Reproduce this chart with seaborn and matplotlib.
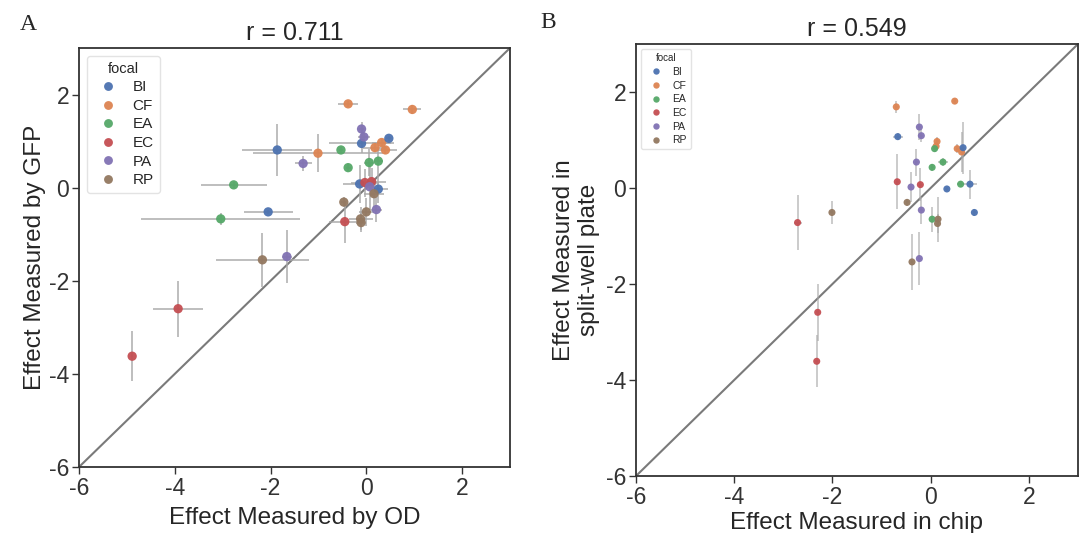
import numpy as np
import pandas as pd
import matplotlib
matplotlib.use("Agg")
import matplotlib.pyplot as plt
import seaborn as sns

# ---------------- Panel A data (OD vs GFP) ----------------
a_focal = ["CF"] * 6 + ["BI"] * 6 + ["EA"] * 6 + ["EC"] * 5 + ["PA"] * 6 + ["RP"] * 6
a_x = [-0.38, 0.96, -1.01, 0.18, 0.32, 0.40,
       -1.86, 0.47, -0.10, -0.14, 0.25, -2.05,
       -2.77, -3.04, -0.53, -0.38, 0.06, 0.25,
       -3.93, -4.89, -0.45, -0.03, 0.11,
       -1.32, -1.66, -0.10, -0.05, 0.07, 0.21,
       -2.17, -0.47, -0.12, -0.11, 0.00, 0.16]
a_y = [1.80, 1.68, 0.74, 0.86, 0.97, 0.81,
       0.81, 1.06, 0.95, 0.08, -0.03, -0.52,
       0.06, -0.67, 0.81, 0.43, 0.54, 0.57,
       -2.60, -3.62, -0.73, 0.11, 0.13,
       0.52, -1.48, 1.26, 1.09, 0.02, -0.47,
       -1.55, -0.31, -0.67, -0.75, -0.52, -0.13]
a_xerr = [0.21, 0.19, 1.35, 0.25, 0.20, 0.25,
          0.73, 0.05, 0.67, 0.35, 0.20, 0.51,
          0.69, 1.66, 0.05, 0.05, 0.10, 0.10,
          0.52, 0.02, 0.34, 0.30, 0.30,
          0.18, 0.10, 0.05, 0.12, 0.10, 0.12,
          0.97, 0.05, 0.25, 0.10, 0.15, 0.20]
a_yerr = [0.07, 0.10, 0.41, 0.10, 0.08, 0.08,
          0.55, 0.05, 0.20, 0.40, 0.30, 0.05,
          0.06, 0.13, 0.06, 0.08, 0.30, 0.30,
          0.60, 0.54, 0.45, 0.30, 0.30,
          0.17, 0.56, 0.14, 0.10, 0.50, 0.27,
          0.58, 0.10, 0.25, 0.20, 0.30, 0.30]

# ---------------- Panel B data (chip vs split-well plate) ----------------
b_focal = ["CF"] * 6 + ["BI"] * 5 + ["EA"] * 5 + ["EC"] * 5 + ["PA"] * 6 + ["RP"] * 5
b_x = [-0.70, 0.49, 0.13, 0.11, 0.54, 0.63,
       -0.67, 0.66, 0.80, 0.33, 0.89,
       0.08, 0.25, 0.03, 0.61, 0.03,
       -0.68, -0.21, -2.71, -2.30, -2.32,
       -0.23, -0.19, -0.29, -0.40, -0.19, -0.23,
       -2.01, -0.48, 0.15, 0.14, -0.38]
b_y = [1.69, 1.81, 0.97, 0.87, 0.82, 0.75,
       1.07, 0.84, 0.08, -0.02, -0.51,
       0.82, 0.54, 0.43, 0.08, -0.65,
       0.13, 0.07, -0.72, -2.59, -3.61,
       1.27, 1.09, 0.54, 0.02, -0.46, -1.47,
       -0.51, -0.30, -0.65, -0.74, -1.54]
b_xerr = [0.03, 0.03, 0.03, 0.03, 0.03, 0.03,
          0.10, 0.03, 0.14, 0.03, 0.03,
          0.03, 0.10, 0.03, 0.07, 0.03,
          0.03, 0.03, 0.08, 0.03, 0.03,
          0.03, 0.03, 0.03, 0.03, 0.03, 0.03,
          0.03, 0.03, 0.03, 0.03, 0.03]
b_yerr = [0.12, 0.05, 0.10, 0.08, 0.10, 0.42,
          0.07, 0.54, 0.30, 0.05, 0.07,
          0.07, 0.08, 0.08, 0.06, 0.26,
          0.57, 0.35, 0.57, 0.59, 0.54,
          0.28, 0.14, 0.28, 0.31, 0.28, 0.56,
          0.24, 0.08, 0.47, 0.20, 0.58]

hue_order = ["BI", "CF", "EA", "EC", "PA", "RP"]
titles = ["r = 0.711", "r = 0.549"]
xlabels = ["Effect Measured by OD", "Effect Measured in chip"]
ylabels = ["Effect Measured by GFP", "Effect Measured in\nsplit-well plate"]
ticks = [-6, -4, -2, 0, 2]

sns.set_theme(style="ticks")
plt.rcParams["font.family"] = ["Liberation Sans", "DejaVu Sans"]
plt.rcParams["axes.unicode_minus"] = False
plt.rcParams["axes.edgecolor"] = "#333333"
plt.rcParams["xtick.color"] = "#333333"
plt.rcParams["ytick.color"] = "#333333"

fig = plt.figure(figsize=(10.84, 5.33), dpi=100)
axA = fig.add_axes([79 / 1084, 66 / 533, 431 / 1084, 419 / 533])
axB = fig.add_axes([636 / 1084, 57 / 533, 442 / 1084, 432 / 533])

dfA = pd.DataFrame({"x": a_x, "y": a_y, "xerr": a_xerr, "yerr": a_yerr, "focal": a_focal})
dfB = pd.DataFrame({"x": b_x, "y": b_y, "xerr": b_xerr, "yerr": b_yerr, "focal": b_focal})

configs = [
    (axA, dfA, 45, 1.4, 11, 10.5, 0.95, 0.3, 17.5, 5, 2),
    (axB, dfB, 26, 1.1, 7.5, 7.0, 0.9, 0.35, 17.5, 2, 4),
]

for i, (ax, df, msize, elw, lfs, lts, mscale, lsp, labfs, xpad, ypad) in enumerate(configs):
    ax.plot([-6, 3], [-6, 3], color="#7a7a7a", lw=1.5, zorder=1)
    ax.errorbar(df["x"], df["y"], xerr=df["xerr"], yerr=df["yerr"], fmt="none",
                ecolor="#a8a8a8", elinewidth=elw, alpha=0.75, zorder=2)
    sns.scatterplot(data=df, x="x", y="y", hue="focal", hue_order=hue_order,
                    palette="deep", s=msize, alpha=0.95, edgecolor="none",
                    ax=ax, zorder=3)
    ax.set_xlim(-6, 3)
    ax.set_ylim(-6, 3)
    ax.set_xticks(ticks)
    ax.set_yticks(ticks)
    ax.tick_params(labelsize=16.5, length=5, width=1.0, pad=2)
    for sp in ax.spines.values():
        sp.set_linewidth(1.3)
    ax.set_xlabel(xlabels[i], fontsize=labfs, labelpad=xpad)
    ax.set_ylabel(ylabels[i], fontsize=labfs, labelpad=ypad)
    ax.set_title(titles[i], fontsize=18, pad=6)
    leg = ax.legend(title="focal", loc="upper left", fontsize=lfs, title_fontsize=lts,
                    markerscale=mscale, frameon=True, borderaxespad=0.5,
                    handletextpad=0.6, labelspacing=lsp)
    leg.get_frame().set_edgecolor("#dddddd")

fig.text(20 / 1084, 1 - 25 / 533, "A", fontsize=17, family="Liberation Serif",
         va="center", ha="left")
fig.text(540 / 1084, 1 - 22 / 533, "B", fontsize=17, family="Liberation Serif",
         va="center", ha="left")

fig.savefig("out.png", dpi=100)
